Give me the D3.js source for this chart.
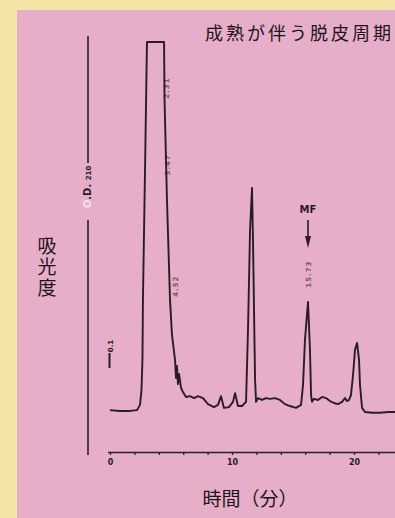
<!DOCTYPE html>
<html>
<head>
<meta charset="utf-8">
<script src="https://cdn.jsdelivr.net/npm/d3@7"></script>
<style>
  html, body { margin: 0; padding: 0; background: #f4e4a8; }
  svg { display: block; }
</style>
</head>
<body>
<svg id="chart" width="395" height="518"></svg>
<script>
// retention time (min) and detector signal (% of full scale)
const times = [0, 0.82, 1.64, 2.21, 2.46, 2.58, 2.66, 2.70, 2.87, 3.03, 4.43, 4.47, 4.67, 4.92,
  5.08, 5.25, 5.33, 5.41, 5.49, 5.57, 5.66, 5.82, 5.98, 6.23, 6.56, 6.89, 7.21, 7.62,
  8.03, 8.52, 8.85, 9.10, 9.34, 9.75, 10.08, 10.25, 10.49, 10.82, 11.15, 11.31, 11.48, 11.64,
  11.72, 11.89, 11.97, 12.13, 12.46, 12.79, 13.11, 13.52, 13.93, 14.34, 14.75, 15.25, 15.66,
  15.82, 15.98, 16.23, 16.39, 16.48, 16.56, 16.72, 17.05, 17.38, 17.70, 18.03, 18.36, 18.69,
  19.02, 19.26, 19.43, 19.59, 19.75, 19.92, 20.08, 20.25, 20.41, 20.49, 20.66, 20.90, 21.48,
  22.13, 22.79, 23.36];
const signal = [2.6, 2.4, 2.4, 2.6, 4.0, 7.9, 15.9, 31.7, 66.1, 100, 100, 84.7, 58.2, 31.7,
  22.5, 18.0, 15.9, 11.1, 14.3, 9.5, 12.2, 8.5, 7.4, 6.1, 6.3, 5.8, 6.3, 5.8,
  4.2, 3.4, 4.0, 6.3, 3.2, 3.4, 4.8, 7.1, 3.7, 3.7, 4.8, 23.8, 50.3, 61.4,
  47.6, 10.6, 4.8, 5.8, 5.3, 5.8, 5.6, 5.8, 5.3, 4.2, 3.7, 3.2, 4.0,
  9.3, 21.2, 31.2, 18.5, 6.6, 4.8, 5.6, 5.3, 6.1, 5.8, 5.0, 4.5, 4.2,
  4.8, 5.8, 5.0, 5.3, 6.6, 11.9, 18.5, 20.4, 15.9, 9.3, 3.2, 2.1, 1.9,
  1.9, 2.1, 2.1];

const xTicks = [0, 2, 4, 6, 8, 10, 12, 14, 16, 18, 20, 22];
const xTickLabels = [0, 10, 20];

// printed retention times along the trace (faint)
const rtTimes = [4.63, 4.67, 5.33, 16.23];
const rtLevels = [87.8, 67.5, 35.4, 38.6];
const rtTexts = ["2.31", "3.47", "4.52", "15.73"];

const titleText = "成熟が伴う脱皮周期";
const yTitle = "吸光度";
const xTitle = "時間（分）";
const mfTime = 16.23;

const svg = d3.select("#chart");
const ink = "#2a1c24";

// pink panel
svg.append("rect")
  .attr("x", 17).attr("y", 10)
  .attr("width", 378).attr("height", 508)
  .attr("fill", "#e6aec9");

const x = d3.scaleLinear().domain([0, 23.4]).range([110, 395.5]);
const y = d3.scaleLinear().domain([0, 100]).range([420, 42]);

// x axis
const xAxis = d3.axisBottom(x)
  .tickValues(xTicks)
  .tickSize(3)
  .tickSizeOuter(0)
  .tickFormat(d => xTickLabels.includes(d) ? d : "");

const gx = svg.append("g")
  .attr("transform", "translate(0,452)")
  .call(xAxis);
gx.select(".domain").attr("stroke", ink).attr("stroke-width", 1.6)
  .attr("d", "M108,0.5H395");
gx.selectAll(".tick line").attr("stroke", ink).attr("stroke-width", 1.3);
gx.selectAll(".tick text")
  .attr("fill", ink)
  .attr("font-family", "DejaVu Sans")
  .attr("font-weight", "bold")
  .attr("font-size", 8)
  .attr("dy", "0.9em");

// y axis line (broken for the label)
svg.append("line").attr("x1", 88).attr("x2", 88).attr("y1", 36).attr("y2", 163)
  .attr("stroke", ink).attr("stroke-width", 1.6);
svg.append("line").attr("x1", 88).attr("x2", 88).attr("y1", 220).attr("y2", 455)
  .attr("stroke", ink).attr("stroke-width", 1.6);

const od = svg.append("text")
  .attr("transform", "translate(91,208) rotate(-90)")
  .attr("font-family", "DejaVu Sans")
  .attr("font-weight", "bold")
  .attr("font-size", 10)
  .attr("fill", ink);
od.append("tspan").attr("fill", "#f4e0ea").text("O");
od.append("tspan").text(".D. ");
od.append("tspan").attr("font-size", 7).text("210");

// scale mark
svg.append("text")
  .attr("transform", "translate(113,346) rotate(-90)")
  .attr("font-family", "DejaVu Sans")
  .attr("font-weight", "bold")
  .attr("font-size", 7)
  .attr("fill", ink)
  .attr("text-anchor", "middle")
  .text("0.1");
svg.append("line").attr("x1", 109.5).attr("x2", 109.5).attr("y1", 353).attr("y2", 368)
  .attr("stroke", ink).attr("stroke-width", 2);

// trace
const pts = times.map((t, i) => [t, signal[i]]);
svg.append("path")
  .datum(pts)
  .attr("fill", "none")
  .attr("stroke", ink)
  .attr("stroke-width", 1.9)
  .attr("stroke-linejoin", "round")
  .attr("d", d3.line().x(d => x(d[0])).y(d => y(d[1])));

// faint retention-time prints
svg.selectAll(".rt")
  .data(rtTexts)
  .enter().append("text")
  .attr("class", "rt")
  .attr("transform", (d, i) => `translate(${x(rtTimes[i]) + 3},${y(rtLevels[i])}) rotate(-90)`)
  .attr("font-family", "DejaVu Sans")
  .attr("font-weight", "bold")
  .attr("font-size", 7)
  .attr("letter-spacing", 1)
  .attr("fill", ink)
  .attr("opacity", 0.6)
  .attr("text-anchor", "middle")
  .text(d => d);

// MF marker
svg.append("text")
  .attr("x", x(mfTime)).attr("y", 213)
  .attr("text-anchor", "middle")
  .attr("font-family", "DejaVu Sans")
  .attr("font-weight", "bold")
  .attr("font-size", 10)
  .attr("fill", ink)
  .text("MF");
svg.append("line")
  .attr("x1", x(mfTime)).attr("x2", x(mfTime))
  .attr("y1", 220).attr("y2", 238)
  .attr("stroke", ink).attr("stroke-width", 1.6);
svg.append("path")
  .attr("d", `M${x(mfTime) - 3},236 L${x(mfTime) + 3},236 L${x(mfTime)},248 Z`)
  .attr("fill", ink);

// titles
svg.append("text")
  .attr("x", 205).attr("y", 40)
  .attr("font-family", "Noto Sans CJK JP")
  .attr("font-size", 18)
  .attr("letter-spacing", 3)
  .attr("fill", "#1e1418")
  .text(titleText);

svg.append("text")
  .attr("x", 47).attr("y", 236)
  .attr("writing-mode", "vertical-rl")
  .attr("text-orientation", "upright")
  .attr("font-family", "Noto Sans CJK JP")
  .attr("font-size", 19)
  .attr("letter-spacing", 2)
  .attr("fill", "#1e1418")
  .text(yTitle);

svg.append("text")
  .attr("x", 250).attr("y", 506)
  .attr("text-anchor", "middle")
  .attr("font-family", "Noto Sans CJK JP")
  .attr("font-size", 19)
  .attr("fill", "#1e1418")
  .text(xTitle);
</script>
</body>
</html>
